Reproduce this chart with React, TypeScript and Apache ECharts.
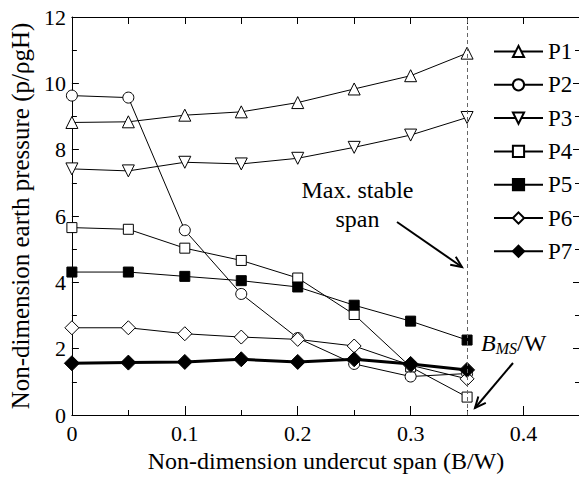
import React, { useEffect, useRef } from "react";
import * as echarts from "echarts";

const spans = [0, 0.05, 0.1, 0.15, 0.2, 0.25, 0.3, 0.35];
const P1 = [8.82, 8.84, 9.04, 9.14, 9.42, 9.83, 10.23, 10.91];
const P2 = [9.63, 9.57, 5.57, 3.65, 2.32, 1.54, 1.16, 1.25];
const P3 = [7.42, 7.36, 7.62, 7.57, 7.74, 8.07, 8.44, 8.97];
const P4 = [5.65, 5.6, 5.03, 4.66, 4.13, 3.03, 1.45, 0.54];
const P5 = [4.31, 4.31, 4.18, 4.05, 3.86, 3.31, 2.83, 2.26];
const P6 = [2.63, 2.63, 2.45, 2.35, 2.28, 2.08, 1.5, 1.09];
const P7 = [1.56, 1.58, 1.6, 1.68, 1.6, 1.68, 1.54, 1.36];
const seriesNames = ["P1", "P2", "P3", "P4", "P5", "P6", "P7"];
const stableSpan = 0.35;

const FONT = "'Liberation Serif', 'Times New Roman', serif";

function arrow(x1: number, y1: number, x2: number, y2: number) {
  const a = Math.atan2(y2 - y1, x2 - x1);
  const h = 12;
  const w = 0.42;
  return [
    { type: "line", shape: { x1, y1, x2, y2 }, style: { stroke: "#000", lineWidth: 2 } },
    {
      type: "polyline",
      shape: {
        points: [
          [x2 - h * Math.cos(a - w), y2 - h * Math.sin(a - w)],
          [x2, y2],
          [x2 - h * Math.cos(a + w), y2 - h * Math.sin(a + w)],
        ],
      },
      style: { stroke: "#000", fill: null, lineWidth: 2 },
    },
  ];
}

export default function App() {
  const ref = useRef<HTMLDivElement>(null);
  useEffect(() => {
    if (!ref.current) return;
    const chart = echarts.init(ref.current, null, { renderer: "svg" });
    const pts = (arr: number[]) => spans.map((x, i) => [x, arr[i]]);
    const mk = (
      name: string,
      arr: number[],
      symbol: string,
      size: number,
      fill: string,
      rotate = 0,
      lw = 1
    ) => ({
      name,
      type: "line",
      data: pts(arr),
      symbol,
      symbolSize: size,
      symbolRotate: rotate,
      showAllSymbol: true,
      lineStyle: { color: "#000", width: lw },
      itemStyle: { color: fill, borderColor: "#000", borderWidth: 1 },
      emphasis: { disabled: true },
      z: 3,
    });
    const series: any[] = [
      mk("P1", P1, "triangle", 12, "#fff"),
      mk("P2", P2, "circle", 11, "#fff"),
      mk("P3", P3, "triangle", 12, "#fff", 180),
      mk("P4", P4, "rect", 10, "#fff"),
      mk("P5", P5, "rect", 10, "#000"),
      mk("P6", P6, "diamond", 14, "#fff"),
      mk("P7", P7, "diamond", 15, "#000", 0, 3),
    ];
    series[0].markLine = {
      silent: true,
      symbol: ["none", "none"],
      label: { show: false },
      lineStyle: { color: "#666", type: [4, 3], width: 1 },
      data: [{ xAxis: stableSpan }],
    };
    const axisCommon = {
      axisLine: { show: true, onZero: false, lineStyle: { color: "#000", width: 1 } },
      splitLine: { show: false },
    };
    chart.setOption({
      animation: false,
      backgroundColor: "#fff",
      grid: { left: 66, right: 1, top: 17, bottom: 60 },
      xAxis: [
        {
          type: "value",
          min: 0,
          max: 0.45,
          interval: 0.1,
          position: "bottom",
          ...axisCommon,
          axisTick: { inside: true, length: 9, lineStyle: { color: "#000" } },
          minorTick: { show: true, splitNumber: 2, length: 5, lineStyle: { color: "#000" } },
          axisLabel: {
            fontSize: 22,
            fontFamily: FONT,
            color: "#000",
            margin: 7,
            formatter: (v: number) => (v > 0.41 ? "" : String(+v.toFixed(2))),
          },
          name: "Non-dimension undercut span (B/W)",
          nameLocation: "middle",
          nameGap: 34,
          nameTextStyle: { fontSize: 24, fontFamily: FONT, color: "#000" },
        },
        {
          type: "value",
          min: 0,
          max: 0.45,
          interval: 0.05,
          position: "top",
          ...axisCommon,
          axisTick: { inside: true, length: 7, lineStyle: { color: "#000" } },
          axisLabel: { show: false },
        },
      ],
      yAxis: [
        {
          type: "value",
          min: 0,
          max: 12,
          interval: 2,
          position: "left",
          ...axisCommon,
          axisTick: { inside: true, length: 7, lineStyle: { color: "#000" } },
          minorTick: { show: true, splitNumber: 2, length: 5, lineStyle: { color: "#000" } },
          axisLabel: { fontSize: 22, fontFamily: FONT, color: "#000", margin: 6 },
          name: "Non-dimension earth pressure (p/ρgH)",
          nameLocation: "middle",
          nameGap: 37,
          nameRotate: 90,
          nameTextStyle: { fontSize: 25, fontFamily: FONT, color: "#000" },
        },
        {
          type: "value",
          min: 0,
          max: 12,
          interval: 2,
          position: "right",
          ...axisCommon,
          axisTick: { inside: true, length: 7, lineStyle: { color: "#000" } },
          minorTick: { show: true, splitNumber: 2, length: 5, lineStyle: { color: "#000" } },
          axisLabel: { show: false },
        },
      ],
      legend: {
        data: seriesNames,
        orient: "vertical",
        left: 493,
        top: 40,
        itemWidth: 49,
        itemHeight: 14,
        itemGap: 10.3,
        padding: 0,
        selectedMode: false,
        textStyle: { fontSize: 23, fontFamily: FONT, color: "#000", lineHeight: 14 },
      },
      graphic: [
        {
          type: "text",
          x: 357.5,
          y: 204,
          style: {
            text: "Max. stable\nspan",
            font: `24px ${FONT}`,
            fill: "#000",
            align: "center",
            verticalAlign: "middle",
            lineHeight: 29,
          },
        },
        {
          type: "text",
          x: 481,
          y: 343,
          style: {
            text: "{b|B}{s|MS}{w|/W}",
            align: "left",
            verticalAlign: "middle",
            rich: {
              b: { fontSize: 24, fontFamily: FONT, fontStyle: "italic", fill: "#000", lineHeight: 26 },
              s: {
                fontSize: 16,
                fontFamily: FONT,
                fontStyle: "italic",
                fill: "#000",
                lineHeight: 26,
                verticalAlign: "bottom",
                padding: [10, 0, 0, 0],
              },
              w: { fontSize: 24, fontFamily: FONT, fill: "#000", lineHeight: 26 },
            },
          },
        },
        ...arrow(397, 222, 462, 267),
        ...arrow(513, 363, 475, 408),
      ],
      series,
    });
    return () => chart.dispose();
  }, []);
  return (
    <div
      style={{
        position: "fixed",
        left: 0,
        top: 0,
        width: 579,
        height: 478,
        overflow: "hidden",
        background: "#fff",
      }}
    >
      <div ref={ref} style={{ width: 583, height: 478 }} />
    </div>
  );
}
